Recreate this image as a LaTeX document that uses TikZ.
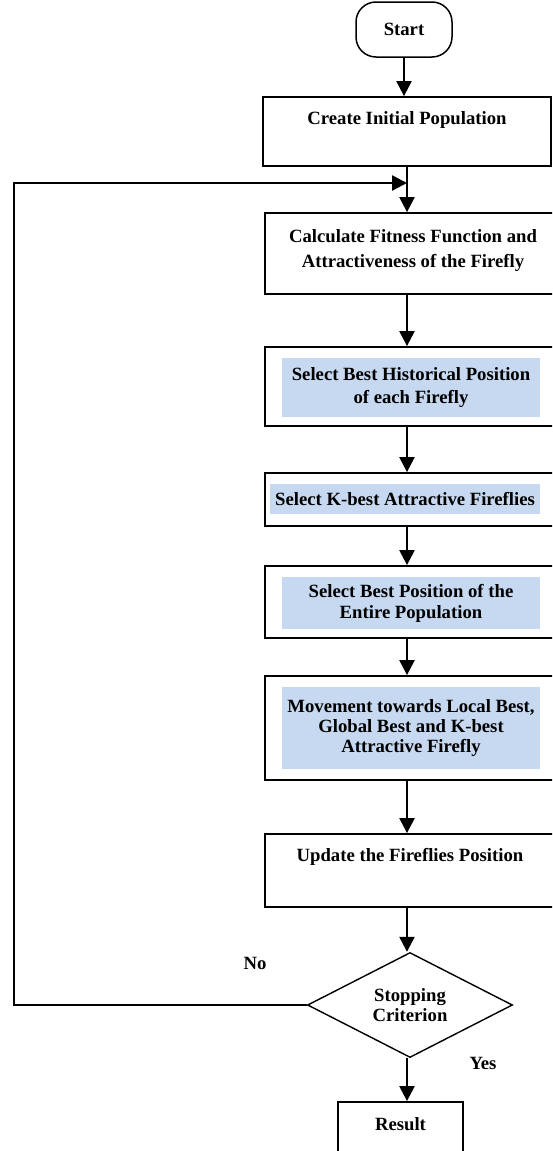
\documentclass[tikz,border=0pt]{standalone}
\usepackage{fontspec}
\setmainfont{Liberation Serif}
\usetikzlibrary{arrows.meta,shapes.geometric}
\definecolor{lightblue}{HTML}{C6D9F1}
\begin{document}
\begin{tikzpicture}[x=1pt,y=-1pt,
  box/.style={draw=black, line width=1.8pt, rectangle, inner sep=0pt, minimum width=291pt},
  bluebox/.style={fill=lightblue, inner sep=0pt, align=center, font=\fontsize{18.7}{#1}\selectfont\bfseries},
  lbl/.style={inner sep=0pt, align=center, font=\fontsize{18.7}{#1}\selectfont\bfseries},
  arr/.style={line width=2.3pt, -{Triangle[width=15pt,length=15pt]}},
  fbline/.style={line width=2pt}
]
\useasboundingbox (0,0) rectangle (552,1151);
\clip (0,0) rectangle (552,1151);

% Start
\node[draw=black, line width=1.5pt, rounded corners=20pt, minimum width=96pt, minimum height=55pt,
      font=\fontsize{18.7}{22}\selectfont\bfseries] (start) at (404,29.5) {Start};

% Create
\node[box, minimum width=288pt, minimum height=69pt] (create) at (407,131.5) {};
\node[lbl=22] (createtxt) at (407,120) {Create Initial Population};

% Calculate
\node[box, minimum height=81pt] (calc) at (410.5,253.5) {};
\node[lbl=25] (calctxt) at (413,251) {Calculate Fitness Function and\\Attractiveness of the Firefly};

% Historical
\node[box, minimum height=79pt] (histbox) at (410.5,386.5) {};
\node[bluebox=23, minimum width=258pt, minimum height=59pt] (hist) at (411,387.5) {Select Best Historical Position\\of each Firefly};

% K-best
\node[box, minimum height=53pt] (kbox) at (410.5,499.5) {};
\node[bluebox=22, minimum width=270pt, minimum height=30pt] (kbest) at (405,499) {Select K-best Attractive Fireflies};

% Best position
\node[box, minimum height=72pt] (posbox) at (410.5,602) {};
\node[bluebox=21, minimum width=258pt, minimum height=52pt] (bestpos) at (411,603) {Select Best Position of the\\Entire Population};

% Movement
\node[box, minimum height=104pt] (movebox) at (410.5,728) {};
\node[bluebox=20, minimum width=258pt, minimum height=82pt] (move) at (411,728) {Movement towards Local Best,\\Global Best and K-best\\Attractive Firefly};

% Update
\node[box, minimum height=73pt] (updbox) at (410.5,870.5) {};
\node[lbl=22] (updtxt) at (410,857) {Update the Fireflies Position};

% Decision
\node[diamond, draw=black, line width=1.4pt, aspect=2, inner sep=0pt, minimum width=205pt, minimum height=105pt,
      align=center, font=\fontsize{18.7}{20.5}\selectfont\bfseries] (crit) at (410,1005) {Stopping\\Criterion};

% Result
\node[box, minimum width=125pt, minimum height=68pt] (result) at (400.5,1136) {};
\node[lbl=22] (restxt) at (400.5,1124) {Result};

% Labels
\node[lbl=22] (no) at (255,963) {No};
\node[lbl=22] (yes) at (483,1063) {Yes};

% spine coordinates
\coordinate (spine) at (407,0);
\coordinate (join) at (407,183);
\coordinate (fbx) at (14,0);

% Connectors
\draw[arr] (start.south) -- (start.south |- create.north);
\draw[line width=2.3pt] (create.south -| spine) -- (join);
\draw[arr] (join) -- (calc.north -| spine);
\draw[arr] (calc.south -| spine) -- (histbox.north -| spine);
\draw[arr] (histbox.south -| spine) -- (kbox.north -| spine);
\draw[arr] (kbox.south -| spine) -- (posbox.north -| spine);
\draw[arr] (posbox.south -| spine) -- (movebox.north -| spine);
\draw[arr] (movebox.south -| spine) -- (updbox.north -| spine);
\draw[arr] (updbox.south -| spine) -- (crit.north -| spine);
\draw[arr] (crit.south -| spine) -- (result.north -| spine);
\draw[fbline] (crit.west) -- (crit.west -| fbx) -- (fbx |- join) -- ([xshift=-15pt]join);
\draw[arr] ([xshift=-16pt]join) -- (join);
\end{tikzpicture}
\end{document}
